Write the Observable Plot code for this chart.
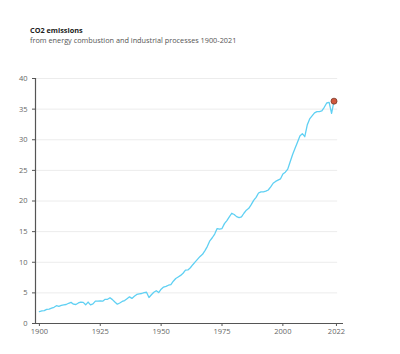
<!DOCTYPE html>
<html><head><meta charset="utf-8">
<script src="https://cdn.jsdelivr.net/npm/d3@7"></script>
<script src="https://cdn.jsdelivr.net/npm/@observablehq/plot@0.6"></script>
<style>
body{margin:0;background:#fff;font-family:"Open Sans",sans-serif;}
#wrap{position:relative;width:400px;height:354px;}
#head{position:relative;height:50px;}
#title{position:absolute;left:30px;top:25px;font-size:7.3px;font-weight:700;color:#222;}
#sub{position:absolute;left:30px;top:35px;font-size:7.3px;color:#555;}
</style></head>
<body>
<div id="wrap">
<div id="head"><div id="title">CO2 emissions</div><div id="sub">from energy combustion and industrial processes 1900-2021</div></div>
<div id="chart"></div>
</div>
<script>
const years = d3.range(1900, 2022);
const emissions = [
1.95,2.05,2.1,2.3,2.35,2.5,2.65,2.9,2.8,2.95,
3.05,3.1,3.3,3.45,3.15,3.1,3.35,3.5,3.45,3.05,
3.5,3.05,3.2,3.65,3.65,3.7,3.65,3.95,3.95,4.2,
3.9,3.5,3.15,3.35,3.6,3.75,4.05,4.35,4.1,4.45,
4.75,4.85,4.9,5.05,5.1,4.25,4.7,5.1,5.35,5.05,
5.6,5.95,6.05,6.25,6.35,6.9,7.35,7.6,7.85,8.2,
8.7,8.75,9.1,9.6,10.05,10.5,10.95,11.3,11.9,12.6,
13.5,14.0,14.6,15.5,15.4,15.5,16.3,16.8,17.4,18.0,
17.8,17.45,17.3,17.4,18.0,18.5,18.8,19.4,20.1,20.6,
21.3,21.5,21.5,21.6,21.8,22.3,22.9,23.2,23.4,23.6,
24.4,24.7,25.2,26.4,27.6,28.6,29.6,30.6,31.0,30.5,
32.4,33.4,33.9,34.4,34.6,34.6,34.7,35.3,36.0,36.1,
34.3,36.3];
const xTicks = [1900, 1925, 1950, 1975, 2000, 2022];
const yTicks = [0, 5, 10, 15, 20, 25, 30, 35, 40];
const gridTicks = yTicks.filter(d => d > 0);

const data = years.map((y, i) => ({year: y, value: emissions[i]}));
const last = data[data.length - 1];
const xMin = 1898.4, xMax = 2024.9, gridEnd = 2022.5;

const chart = Plot.plot({
  width: 400, height: 304,
  marginTop: 28, marginBottom: 31, marginLeft: 35, marginRight: 57,
  style: {fontFamily: "Open Sans, sans-serif", fontSize: "7.5px", color: "#666", background: "#fff"},
  x: {domain: [xMin, xMax]},
  y: {domain: [0, 40]},
  marks: [
    Plot.ruleY(gridTicks, {x1: xMin, x2: gridEnd, stroke: "#ececec", strokeWidth: 1}),
    Plot.axisX({ticks: xTicks, tickFormat: d => String(d), tickSize: 3, tickPadding: 2, stroke: "#555", fill: "#666", label: null}),
    Plot.axisY({ticks: yTicks, tickSize: 3, tickPadding: 5, stroke: "#555", fill: "#666", label: null}),
    Plot.ruleX([xMin], {y1: 0, y2: 40, stroke: "#555", strokeWidth: 1.2}),
    Plot.ruleY([0], {x1: xMin, x2: xMax, stroke: "#555", strokeWidth: 1.2}),
    Plot.line(data, {x: "year", y: "value", stroke: "#5fd0f3", strokeWidth: 1.3}),
    Plot.dot([last], {x: "year", y: "value", r: 3, fill: "#d0593f", stroke: "#7a3a2a", strokeWidth: 0.8})
  ]
});
document.getElementById("chart").appendChild(chart);
</script>
</body></html>
